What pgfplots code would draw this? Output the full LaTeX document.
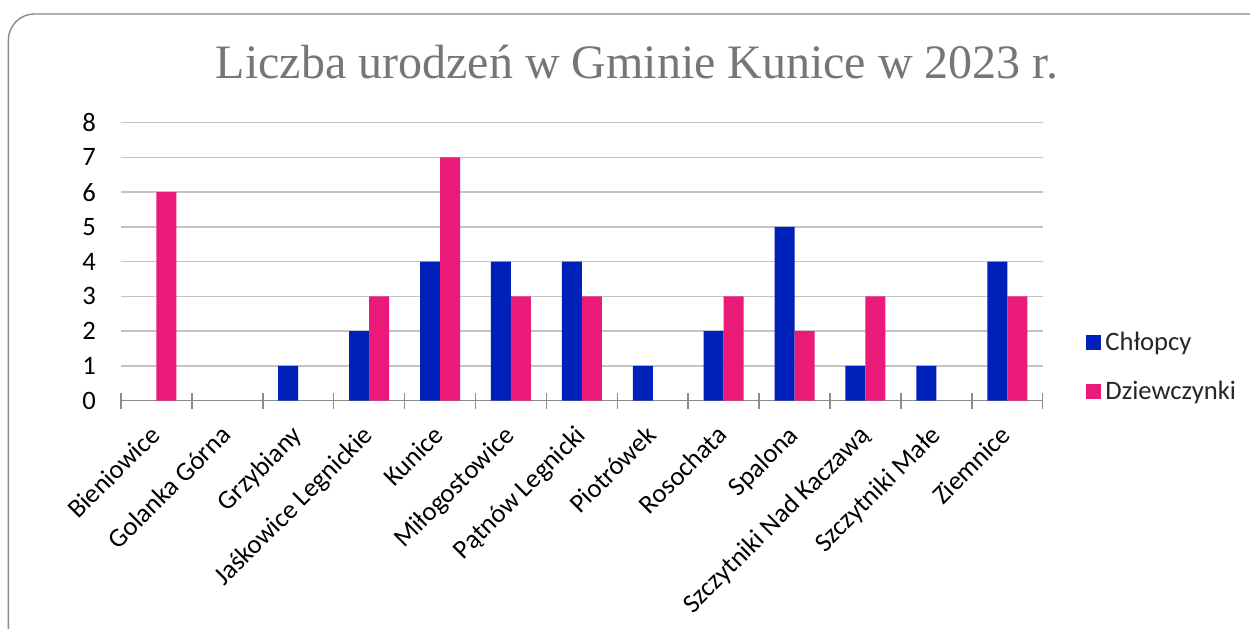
\documentclass[border=0pt]{standalone}
\usepackage{fontspec}
\setmainfont{Carlito}
\newfontfamily\titlefont{Liberation Serif}
\usepackage{pgfplots}
\pgfplotsset{compat=1.18}
\definecolor{cblue}{HTML}{0021B9}
\definecolor{cpink}{HTML}{E91A78}
\definecolor{gridc}{HTML}{C4C4C4}
\definecolor{axisc}{HTML}{8C8C8C}
\definecolor{framec}{HTML}{8A8A8A}
\definecolor{titlec}{HTML}{767676}
\begin{document}
\begin{tikzpicture}
\useasboundingbox (0,0) rectangle (625pt,314pt);
\fill[white] (0,0) rectangle (625pt,314pt);
\draw[framec, line width=0.7pt, rounded corners=13pt] (4.2pt,-30pt) rectangle (660pt,307pt);
\node[anchor=base, text=titlec, font=\titlefont\fontsize{24}{28}\selectfont, inner sep=0pt] at (318.5pt,274.5pt) {Liczba urodzeń w Gminie Kunice w 2023 r.};
\begin{axis}[
  at={(60.5pt,113.75pt)}, anchor=south west,
  scale only axis, width=460.85pt, height=138.9pt,
  ybar=0pt, bar width=10pt,
  xmin=-0.5, xmax=12.5, ymin=0, ymax=8,
  ytick={0,1,...,8},
  xtick={0,...,12},
  xticklabels={Bieniowice,Golanka Górna,Grzybiany,Jaśkowice Legnickie,Kunice,Miłogostowice,Pątnów Legnicki,Piotrówek,Rosochata,Spalona,Szczytniki Nad Kaczawą,Szczytniki Małe,Ziemnice},
  minor xtick={-0.5,0.5,...,12.5},
  axis lines*=left,
  y axis line style={draw=none},
  x axis line style={axisc, line width=0.75pt},
  major tick length=0pt,
  minor tick length=8pt,
  tick align=center,
  every minor tick/.style={axisc, line width=0.75pt},
  ymajorgrids, major grid style={gridc, line width=0.75pt},
  /pgf/number format/assume math mode=true,
  ticklabel style={font=\fontsize{13.3}{15}\selectfont, text=black},
  yticklabel style={xshift=-9pt},
  xticklabel style={xshift=-4pt, yshift=-10pt, rotate=45, anchor=north east, inner sep=1pt},
  legend style={at={(1.0405,0.1206)}, anchor=west, draw=none, fill=none,
    font=\fontsize{13.3}{15}\selectfont, text=black!85, row sep=9.75pt,
    /tikz/every even column/.append style={column sep=0pt}},
  legend cell align=left,
  legend image code/.code={\fill[#1] (0pt,-3.75pt) rectangle (7.5pt,3.75pt);},
  y filter/.expression={y==0 ? nan : y},
]
\addplot[fill=cblue, draw=none] coordinates {(0,0) (1,0) (2,1) (3,2) (4,4) (5,4) (6,4) (7,1) (8,2) (9,5) (10,1) (11,1) (12,4)};
\addplot[fill=cpink, draw=none] coordinates {(0,6) (1,0) (2,0) (3,3) (4,7) (5,3) (6,3) (7,0) (8,3) (9,2) (10,3) (11,0) (12,3)};
\legend{Chłopcy,Dziewczynki}
\end{axis}
\end{tikzpicture}
\end{document}
